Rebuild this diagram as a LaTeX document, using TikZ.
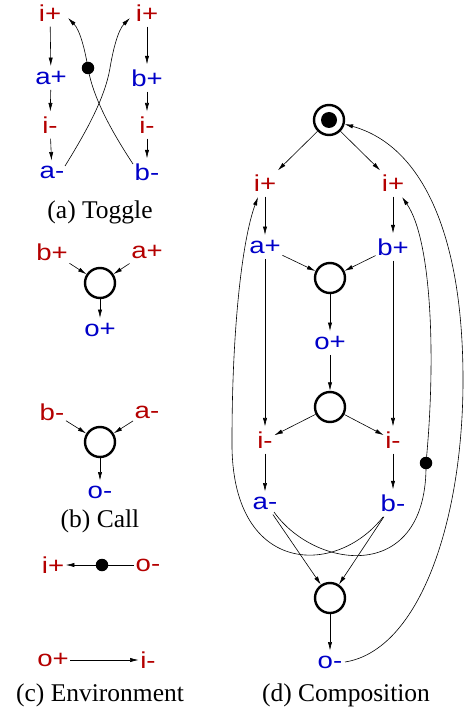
\documentclass[tikz,border=0pt]{standalone}
\usepackage{fontspec}
\setmainfont{Liberation Serif}
\newfontfamily\labfont[FakeStretch=1.2]{Liberation Sans}
\usetikzlibrary{arrows.meta,calc}
\definecolor{lred}{RGB}{180,0,0}
\definecolor{lblue}{RGB}{0,0,200}
\begin{document}
\begin{tikzpicture}[x=1pt,y=-1pt,
 lab/.style={font=\labfont\fontsize{23}{25}\selectfont, inner xsep=1.5pt, inner ysep=5pt},
 rl/.style={lab,text=lred},
 bl/.style={lab,text=lblue},
 arr/.style={-{Latex[length=8.5pt,width=4.2pt]}, line width=0.6pt},
 ln/.style={line width=0.6pt},
 place/.style={circle, draw, line width=2.4pt, minimum size=30pt, inner sep=0pt},
 dotn/.style={circle, fill, minimum size=12.5pt, inner sep=0pt},
 captxt/.style={font=\fontsize{25.5}{28}\selectfont, inner sep=0pt}]
\useasboundingbox (0,0) rectangle (466,719);

% (a) Toggle
\node[rl] (ta1) at (50,13) {i+};
\node[bl] (ta2) at (51,78) {a+};
\node[rl] (ta3) at (50,125) {i-};
\node[bl] (ta4) at (52,172) {a-};
\node[rl] (tb1) at (147,13) {i+};
\node[bl] (tb2) at (147,78) {b+};
\node[rl] (tb3) at (147,125) {i-};
\node[bl] (tb4) at (147,172) {b-};
\node[dotn] (td) at (88,68) {};
\draw[arr] (ta1) -- (ta2);
\draw[arr] (ta2) -- (ta3);
\draw[arr] (ta3) -- (ta4);
\draw[arr] (tb1) -- (tb2);
\draw[arr] (tb2) -- (tb3);
\draw[arr] (tb3) -- (tb4);
\draw[arr] ($(tb4)+(-14,-8)$) .. controls (112,132) and (93,98) .. (td.center)
  .. controls (85,50) and (80,30) .. ($(ta1)+(18,5)$);
\draw[arr] ($(ta4)+(13,-6)$) .. controls (86,132) and (105,98) .. (110,68)
  .. controls (113,50) and (118,30) .. ($(tb1)+(-17,5)$);
\node[captxt] (capa) at (100,212) {(a) Toggle};

% (b) Call
\node[rl] (cbp) at (52,252) {b+};
\node[rl] (cap) at (147,252) {a+};
\node[place] (c1) at (100,283) {};
\node[bl] (cop) at (100,330) {o+};
\draw[arr] (cbp) -- (c1);
\draw[arr] (cap) -- (c1);
\draw[arr] (c1) -- (cop);
\node[rl] (cbm) at (52,412) {b-};
\node[rl] (cam) at (147,412) {a-};
\node[place] (c2) at (100,442) {};
\node[bl] (com) at (100,492) {o-};
\draw[arr] (cbm) -- (c2);
\draw[arr] (cam) -- (c2);
\draw[arr] (c2) -- (com);
\node[captxt] (capb) at (100,521) {(b) Call};

% (c) Environment
\node[rl] (ei) at (53,565) {i+};
\node[dotn] (ed) at (102,565) {};
\node[rl] (eo) at (148,565) {o-};
\draw[ln] (eo) -- (ed);
\draw[arr] (ed) -- (ei);
\node[rl] (eop) at (53,660) {o+};
\node[rl] (eim) at (148,660) {i-};
\draw[arr] (eop) -- (eim);
\node[captxt] (capc) at (100,695) {(c) Environment};

% (d) Composition
\node[place] (s) at (329,120) {};
\node[dotn, minimum size=16pt] (sin) at (s) {};
\node[rl] (li) at (265,183) {i+};
\node[rl] (ri) at (393,183) {i+};
\node[bl] (ap) at (265,247) {a+};
\node[bl] (bp) at (393,247) {b+};
\node[place] (k1) at (330,278) {};
\node[bl] (op) at (330,343) {o+};
\node[place] (k2) at (330,407) {};
\node[rl] (lm) at (265,440) {i-};
\node[rl] (rm) at (393,440) {i-};
\node[bl] (am) at (265,503) {a-};
\node[bl] (bm) at (393,503) {b-};
\node[place] (k3) at (330,598) {};
\node[bl] (om) at (330,662) {o-};
\node[dotn] (dd) at (426,463) {};
\draw[arr] (s) -- (li);
\draw[arr] (s) -- (ri);
\draw[arr] (li) -- (ap);
\draw[arr] (ri) -- (bp);
\draw[arr] (ap) -- (k1);
\draw[arr] (bp) -- (k1);
\draw[arr] (k1) -- (op);
\draw[arr] (ap) -- (lm);
\draw[arr] (bp) -- (rm);
\draw[arr] (op) -- (k2);
\draw[arr] (k2) -- (lm);
\draw[arr] (k2) -- (rm);
\draw[arr] (lm) -- (am);
\draw[arr] (rm) -- (bm);
\draw[arr] (am) -- (k3);
\draw[arr] (bm) -- (k3);
\draw[arr] (k3) -- (om);
\draw[arr] ($(am)+(9,9)$) .. controls (315,570) and (428,585) .. (dd.center)
  .. controls (436,360) and (432,240) .. ($(ri)+(9,14)$);
\draw[arr] ($(bm)+(-10,14)$) .. controls (335,578) and (230,575) .. (232,440)
  .. controls (232,330) and (242,240) .. ($(li)+(-7,14)$);
\draw[arr] ($(om)+(15,0)$) .. controls (420,650) and (463,520) .. (463,380)
  .. controls (463,230) and (420,145) .. (s.-15);
\node[captxt] (capd) at (346,695) {(d) Composition};
\end{tikzpicture}
\end{document}
